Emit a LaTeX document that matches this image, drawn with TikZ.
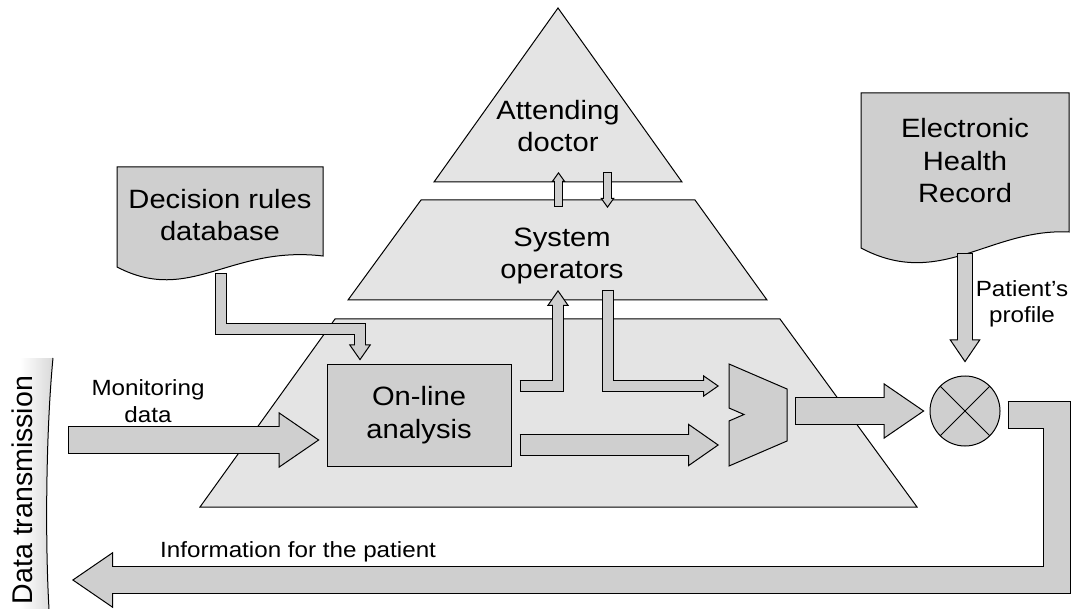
\documentclass[tikz,border=0pt]{standalone}
\usepackage{fontspec}
\setmainfont{Liberation Sans}[FakeStretch=1.1]
\newfontfamily\uprightsans{Liberation Sans}
\usepackage{tikz}
\usetikzlibrary{arrows.meta, calc}

\definecolor{layergray}{HTML}{E4E4E4}
\definecolor{boxgray}{HTML}{CFCFCF}
\newcommand{\layerfont}{\fontsize{26.5}{32.5}\selectfont}
\newcommand{\notefont}{\fontsize{22}{26.5}\selectfont}

\begin{document}
\begin{tikzpicture}[
    x=1pt, y=-1pt,
    layer/.style={draw, fill=layergray, line width=1pt, line join=miter},
    docshape/.style={draw, fill=boxgray, line width=1pt},
    box/.style={draw, rectangle, fill=boxgray, line width=1pt, align=center, font=\layerfont},
    lbl/.style={align=center, font=\layerfont},
    note/.style={align=center, font=\notefont},
    fat/.style n args={3}{line width=#1+2pt, draw=black,
        -{Triangle[length=#2, width=#3, line width=1pt, fill=boxgray, color=black]},
        postaction={draw=boxgray, line width=#1, arrows=-, shorten <=1pt, shorten >=#2-1.5pt}},
    bigarrow/.style={fat={26pt}{41pt}{56pt}},
    midarrow/.style={fat={20pt}{31pt}{43pt}},
    profarrow/.style={fat={14pt}{23pt}{31pt}},
    thinarrow/.style={fat={10pt}{16pt}{22pt}},
    tinyarrow/.style={fat={6.5pt}{10pt}{14pt}}
]
\useasboundingbox (0,0) rectangle (1073,609);

% Pyramid layers
\draw[layer] (558,8) -- (682,182) -- (434,182) -- cycle;
\draw[layer] (421,200) -- (695,200) -- (767,300) -- (348,300) -- cycle;
\draw[layer] (335,319) -- (780,319) -- (917,507) -- (200,507) -- cycle;
\node[lbl] (doctor) at (558,126) {Attending\\doctor};
\node[lbl] (operators) at (562,256) {System\\operators};

% Data transmission strip
\shade[left color=white, right color=gray!30] (20,358) -- (53,358) .. controls (46,430) and (45,540) .. (49,609) -- (20,609) -- cycle;
\draw[line width=1pt] (53,358) .. controls (46,430) and (45,540) .. (49,609);
\node[rotate=90, font=\uprightsans\fontsize{28.5}{34}\selectfont] (transmission) at (22.5,490) {Data transmission};

% Documents
\draw[docshape] (117,167) -- (323,167) -- (323,256) .. controls (230,245) and (190,305) .. (117,267) -- cycle;
\node[lbl] (rules) at (220,215) {Decision rules\\database};
\draw[docshape] (861,93) -- (1069,93) -- (1069,232) .. controls (990,228) and (940,290) .. (861,248) -- cycle;
\node[lbl] (ehr) at (965,161) {Electronic\\Health\\Record};

% Analysis block, selector and combiner
\node[box, minimum width=184pt, minimum height=102pt] (analysis) at (419,415) {On-line\\analysis};
\draw[docshape] (729,364) -- (787,389) -- (787,441) -- (729,466) -- (729,421) -- (744,414.5) -- (729,408) -- cycle;
\coordinate (mux) at (758,415);
\node[circle, draw, fill=boxgray, line width=1pt, minimum size=70pt, inner sep=0pt] (mult) at (965,411) {};
\draw[line width=1pt] (mult.45) -- (mult.225) (mult.135) -- (mult.-45);

% Free ends
\coordinate (mon) at (68,440);
\coordinate (info) at (72,580);

% Labels
\node[note] (monlabel) at (148,401) {Monitoring\\data};
\node[note] (proflabel) at (1022,304) {Patient's\\profile};
\node[note, anchor=base west, inner sep=0pt] (infolabel) at (160,557) {Information for the patient};

% Flows
\draw[tinyarrow] ($(doctor)+(0.5,81)$) -- ++(0,-35);
\draw[tinyarrow] ($(doctor)+(49.5,46)$) -- ++(0,36);
\draw[bigarrow] (mon) -- ($(analysis.west)+(-7,25)$);
\draw[thinarrow] ($(rules)+(1,58)$) |- ($(analysis.north west)+(33.5,-34.5)$) -- ($(analysis.north west)+(33.5,-3)$);
\draw[thinarrow] ($(analysis.east)+(8,-29)$) -| ($(operators)+(-4,34)$);
\draw[thinarrow] ($(operators)+(46,34)$) |- ($(mux)+(-39,-29)$);
\draw[midarrow] ($(analysis.east)+(8,30)$) -- ($(mux)+(-39,30)$);
\draw[bigarrow] ($(mux)+(37,-4)$) -- ($(mult.west)+(-5,0)$);
\draw[profarrow] ($(ehr)+(0,92)$) -- ($(mult.north)+(0,-13)$);
\draw[bigarrow] ($(mult.east)+(7,3.5)$) -- ++(49,0) |- (info);

\end{tikzpicture}
\end{document}
